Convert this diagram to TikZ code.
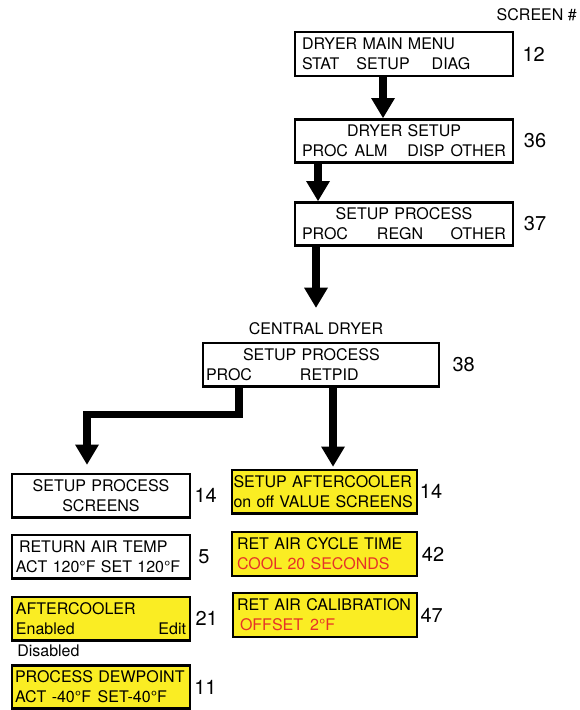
\documentclass[tikz,border=0pt]{standalone}
\usepackage{fontspec}
\setmainfont{TeX Gyre Heros}
\usetikzlibrary{arrows.meta,positioning,calc}
\definecolor{lcdyellow}{RGB}{250,237,35}
\definecolor{lcdred}{RGB}{230,50,40}

\begin{document}
\begin{tikzpicture}[x=0.75pt,y=-0.75pt,
  box/.style={draw,line width=2pt,inner sep=0pt,minimum height=32.5pt,
              align=left,font=\fontsize{12}{15}\selectfont},
  lcd/.style={box,fill=lcdyellow},
  scr/.style={font=\fontsize{15}{15}\selectfont,inner sep=0pt},
  lbl/.style={font=\fontsize{12}{15}\selectfont,inner sep=0pt},
  arr/.style={line width=5.5pt,line join=miter,
              -{Triangle[length=15pt,width=18pt,line width=0pt]}}
]
\useasboundingbox (0,0) rectangle (580,710);

\node[lbl,anchor=east] (scrno) at (577,15) {SCREEN \#};

% menu chain
\node[box,minimum width=163.5pt,minimum height=33pt,text width=153pt] (m12) at (404,54)
  {DRYER MAIN MENU\\STAT\hspace{12.75pt}SETUP\hspace{16.5pt}DIAG};
\node[box,minimum width=163.5pt,text width=153pt] (m36) at (404,141)
  {\hfill DRYER SETUP\hfill\null\\PROC\hspace{5pt}ALM\hfill DISP\hspace{4.5pt}OTHER};
\node[box,minimum width=163.5pt,text width=153pt] (m37) at (404,224)
  {\hfill SETUP PROCESS\hfill\null\\PROC\hspace{21.75pt}REGN\hfill OTHER};
\node[lbl] (central) at (316,329) {CENTRAL DRYER};
\node[box,minimum width=177pt,text width=172.5pt] (m38) at (321,364.5)
  {\hspace*{27.75pt}SETUP PROCESS\\PROC\hspace{36pt}RETPID};

% PROC side
\node[box,align=center,minimum width=133.5pt,text width=127.5pt] (m14l) at (101,495.5)
  {SETUP PROCESS\\SCREENS};
\node[box,minimum width=133.5pt,text width=127.5pt] (m5) at (101,556.5)
  {\hspace*{2.25pt}RETURN AIR TEMP\\ACT 120°F SET 120°F};
\node[lcd,minimum width=133.5pt,text width=127.5pt] (m21) at (101,618.5)
  {AFTERCOOLER\\Enabled\hfill Edit\hspace*{11pt}};
\node[lbl,anchor=west] (dis) at (17,651) {Disabled};
\node[lcd,minimum width=133.5pt,text width=129pt] (m11) at (101,687)
  {PROCESS DEWPOINT\\ACT -40°F\hspace{5pt}SET-40°F};

% RETPID side
\node[lcd,minimum width=138.75pt,text width=136.5pt] (m14r) at (324.5,491.5)
  {SETUP AFTERCOOLER\\on off VALUE SCREENS};
\node[lcd,minimum width=138.75pt,minimum height=33pt,text width=131.25pt] (m42) at (324.5,554)
  {RET AIR CYCLE TIME\\\textcolor{lcdred}{COOL 20 SECONDS}};
\node[lcd,minimum width=138pt,minimum height=33pt,text width=132pt] (m47) at (325,615)
  {RET AIR CALIBRATION\\\textcolor{lcdred}{\hspace*{2.25pt}OFFSET\hspace{5.25pt}2°F}};

% screen numbers
\node[scr,right=6pt of m12] (n12) {12};
\node[scr,right=7pt of m36] (n36) {36};
\node[scr,right=7pt of m37] (n37) {37};
\node[scr,right=9pt of m38] (n38) {38};
\node[scr,right=2.25pt of m14l] (n14l) {14};
\node[scr,right=5pt of m5] (n5) {5};
\node[scr,right=3pt of m21] (n21) {21};
\node[scr,right=2pt of m11] (n11) {11};
\node[scr,right=1pt of m14r] (n14r) {14};
\node[scr,right=2.5pt of m42] (n42) {42};
\node[scr,right=1.5pt of m47] (n47) {47};

% arrows
\draw[arr] ([xshift=-15.75pt]m12.south) -- ([xshift=-15.75pt]m12.south |- m36.north);
\draw[arr] ([xshift=-64.5pt]m36.south) -- ([xshift=-64.5pt]m36.south |- m37.north);
\draw[arr,shorten >=11.25pt] ([xshift=-66pt]m37.south) -- ([xshift=-66pt]m37.south |- central.north);
\draw[arr,shorten >=6pt] ([xshift=-61.5pt]m38.south) -- ++(0,27) -| ([xshift=-10.5pt]m14l.north);
\draw[arr,shorten >=1.5pt] ([xshift=9pt]m38.south) -- ([xshift=9pt]m38.south |- m14r.north);
\end{tikzpicture}
\end{document}
